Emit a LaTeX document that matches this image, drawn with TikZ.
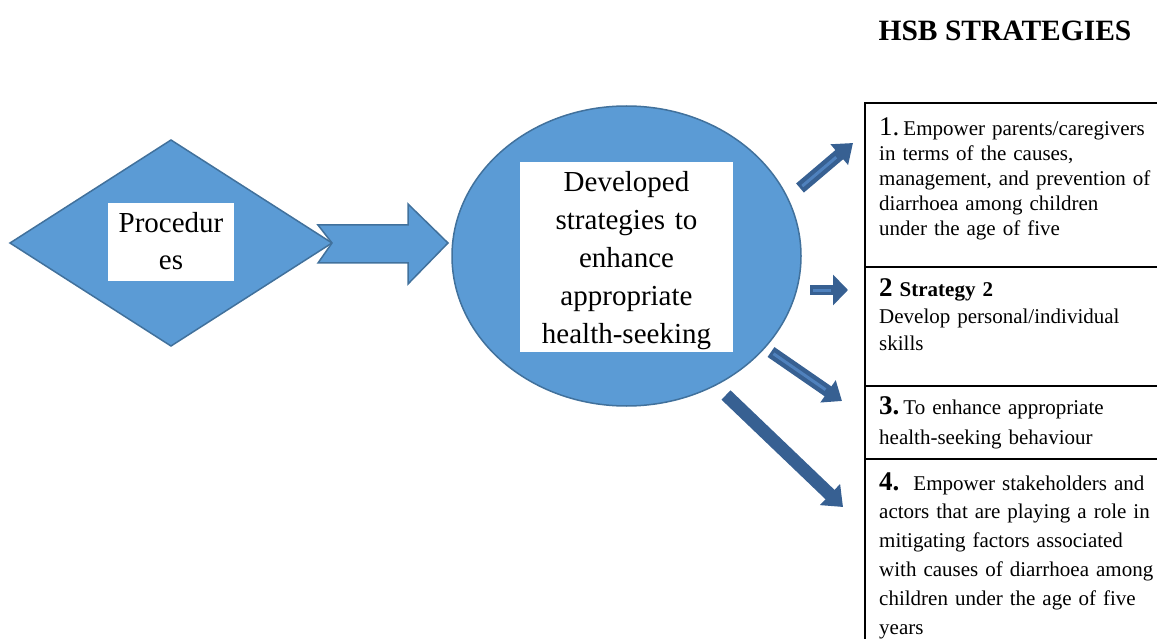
\documentclass[tikz,border=0pt]{standalone}
\usepackage{fontspec}
\setmainfont{Liberation Serif}
\usetikzlibrary{arrows.meta,shapes.geometric}

\definecolor{shapefill}{RGB}{91,155,213}
\definecolor{shapeline}{RGB}{65,113,156}
\definecolor{arrowdark}{RGB}{55,96,146}
\definecolor{arrowlight}{RGB}{79,129,189}

\tikzset{
  blueshape/.style={fill=shapefill, draw=shapeline, line width=1.5pt},
  labelbox/.style={fill=white, inner sep=0pt},
  bigtext/.style={font=\fontsize{29}{38}\selectfont, align=center, inner sep=0pt},
  rule/.style={line width=2pt, black},
  striptext/.style={anchor=base west, inner sep=0pt, text width=276pt, align=left},
  pointer/.style={arrowdark, line width=#1},
  stripe/.style={arrowlight, line width=3pt},
}

\begin{document}
\begin{tikzpicture}[x=1pt,y=-1pt]
\useasboundingbox (0,0) rectangle (1157,639);

% Procedures diamond with its label
\coordinate (dw) at (10,243);
\coordinate (dn) at (171,140);
\coordinate (de) at (332,243);
\coordinate (ds) at (171,346);
\draw[blueshape] (dw) -- (dn) -- (de) -- (ds) -- cycle;
\node[labelbox, minimum width=126pt, minimum height=78pt] (procbox) at (171,242) {};
\node[bigtext, anchor=base, text width=126pt, font=\fontsize{29}{37}\selectfont] (proctext) at (171,233) {Procedur\\es};

% Notched block arrow towards the hub
\draw[blueshape] (318,225) -- (408,225) -- (408,204) -- (448,243)
  -- (408,284) -- (408,263) -- (318,263) -- (332,243) -- cycle;

% Central hub
\node[blueshape, ellipse, minimum width=349pt, minimum height=300pt, inner sep=0pt] (hub) at (626.5,256) {};
\node[labelbox, minimum width=213pt, minimum height=190pt] (hubbox) at (626.5,257) {};
\node[bigtext, anchor=base, text width=213pt] (hubtext) at (626.5,191.5)
  {Developed\\strategies to\\enhance\\appropriate\\health-seeking};

% Heading
\node[anchor=base, inner sep=0pt, font=\bfseries\fontsize{29.5}{32}\selectfont] (title) at (1005,40.5) {HSB STRATEGIES};

% Strategy column rules
\draw[rule] (865,639) -- (865,103) -- (1157,103);
\draw[rule] (865,267) -- (1157,267);
\draw[rule] (865,386) -- (1157,386);
\draw[rule] (865,459) -- (1157,459);

% Strategy texts
\node[striptext, font=\fontsize{21}{25}\selectfont] (s1) at (879,136)
  {{\fontsize{27}{25}\selectfont 1.}\hspace{4pt}Empower parents/caregivers\\in terms of the causes,\\management, and prevention of\\diarrhoea among children\\under the age of five};
\node[striptext, font=\fontsize{21}{27.3}\selectfont] (s2) at (879,296)
  {{\bfseries\fontsize{27}{27}\selectfont 2} {\bfseries Strategy 2}\\Develop personal/individual\\skills};
\node[striptext, font=\fontsize{21}{30}\selectfont] (s3) at (879,414)
  {{\bfseries\fontsize{27}{30}\selectfont 3.}\hspace{4pt}To enhance appropriate\\health-seeking behaviour};
\node[striptext, font=\fontsize{21}{28.8}\selectfont] (s4) at (879,490)
  {{\bfseries\fontsize{27}{28.8}\selectfont 4.}\ \ Empower stakeholders and\\actors that are playing a role in\\mitigating factors associated\\with causes of diarrhoea among\\children under the age of five\\years};

% Pointers from the hub to the strategies
\coordinate (p1s) at (800,188);  \coordinate (p1e) at (853,143);
\coordinate (p2s) at (810,290);  \coordinate (p2e) at (848,290);
\coordinate (p3s) at (771,352);  \coordinate (p3e) at (842,401);
\coordinate (p4s) at (726,395);  \coordinate (p4e) at (843,507);

\draw[pointer=12pt, -{Triangle[length=18pt, width=26pt]}] (p1s) -- (p1e);
\draw[stripe, shorten <=3pt, shorten >=22pt] (p1s) -- (p1e);
\draw[pointer=10pt, -{Triangle[length=15pt, width=30pt]}] (p2s) -- (p2e);
\draw[stripe, shorten <=3pt, shorten >=17pt] (p2s) -- (p2e);
\draw[pointer=12pt, -{Triangle[length=17pt, width=26pt]}] (p3s) -- (p3e);
\draw[stripe, shorten <=3pt, shorten >=20pt] (p3s) -- (p3e);
\draw[pointer=13pt, -{Triangle[length=18pt, width=28pt]}] (p4s) -- (p4e);
\end{tikzpicture}
\end{document}
